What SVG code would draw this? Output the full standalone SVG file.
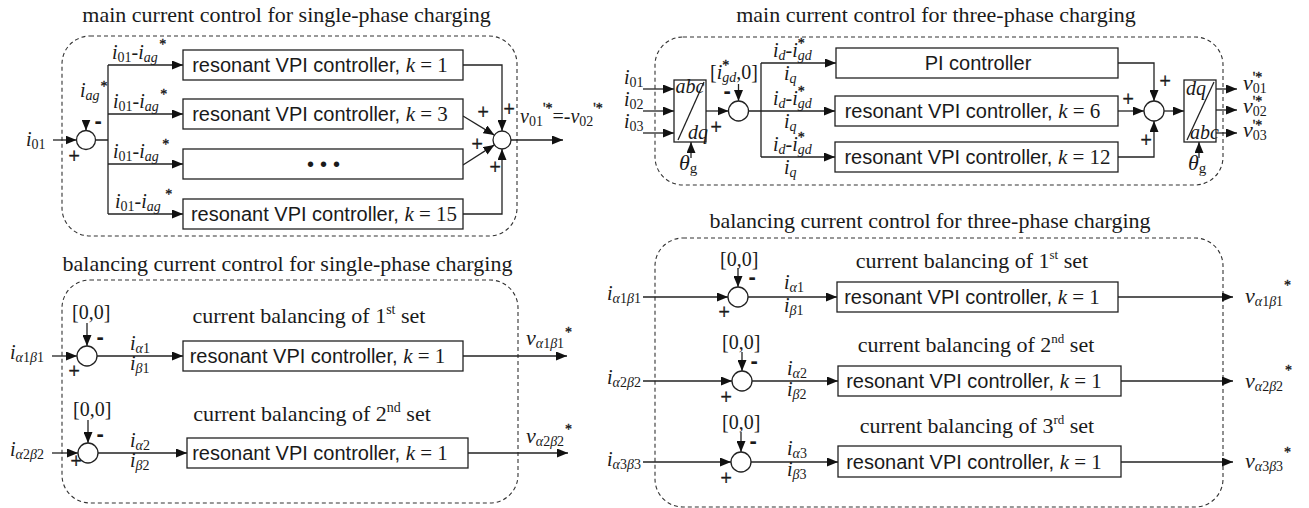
<svg xmlns="http://www.w3.org/2000/svg" width="1309" height="508" viewBox="0 0 1309 508">
<defs>
<style>
.tx{font-family:"Liberation Serif","Times New Roman",serif;fill:#1a1a1a;font-size:20px}
.ti{font-size:22px}
.it{font-style:italic}
.sb{font-size:14px}
.st{font-size:14px;stroke:#1a1a1a;stroke-width:0.35}
.bt{font-family:"Liberation Sans",Arial,sans-serif;font-size:20px;fill:#1a1a1a}
.sr{font-family:"Liberation Serif","Times New Roman",serif;font-size:21px}
.pl{font-family:"Liberation Serif","Times New Roman",serif;font-size:20px;fill:#1a1a1a;stroke:#1a1a1a;stroke-width:0.5}
.pm{font-family:"Liberation Sans",Arial,sans-serif;font-weight:bold;font-size:22px;fill:#1a1a1a}
.ln{fill:none;stroke:#222;stroke-width:1.3}
.ar{marker-end:url(#ah)}
.bx{fill:#fff;stroke:#222;stroke-width:1.3}
.cir{fill:#fff;stroke:#222;stroke-width:1.3}
.dsh{fill:none;stroke:#333;stroke-width:1.1;stroke-dasharray:4 3}
</style>
<marker id="ah" viewBox="0 0 11 9" refX="11" refY="4.5" markerWidth="11" markerHeight="9" markerUnits="userSpaceOnUse" orient="auto"><path d="M0,0 L11,4.5 L0,9 z" fill="#111"/></marker>
</defs>
<rect width="1309" height="508" fill="#fff"/>

<g id="frames">
<rect class="dsh" x="62" y="36" width="455" height="200" rx="28" ry="28"/>
<rect class="dsh" x="655" y="37" width="568" height="148" rx="28" ry="28"/>
<rect class="dsh" x="62" y="280" width="456" height="223" rx="28" ry="28"/>
<rect class="dsh" x="655" y="238" width="568" height="269" rx="28" ry="28"/>
<text class="tx ti" x="286.5" y="22" text-anchor="middle">main current control for single-phase charging</text>
<text class="tx ti" x="936" y="22" text-anchor="middle">main current control for three-phase charging</text>
<text class="tx ti" x="287.5" y="271" text-anchor="middle">balancing current control for single-phase charging</text>
<text class="tx ti" x="930" y="228" text-anchor="middle">balancing current control for three-phase charging</text>
</g>

<g id="connectors">
<path class="ln ar" d="M53,140 H76.5"/>
<path class="ln ar" d="M86,120 V130.5"/>
<path class="ln" d="M95.5,140 H108 M108,65 V214"/>
<path class="ln ar" d="M108,65 H183"/>
<path class="ln ar" d="M108,114 H183"/>
<path class="ln ar" d="M108,164 H183"/>
<path class="ln ar" d="M108,214 H183"/>
<path class="ln ar" d="M463,65 H502 V131"/>
<path class="ln ar" d="M463,116 L494.4,135.1"/>
<path class="ln ar" d="M463,165 L494.4,144.9"/>
<path class="ln ar" d="M463,214 H502 V149"/>
<path class="ln ar" d="M511,140 H563"/>
<path class="ln ar" d="M643,89 H674"/>
<path class="ln ar" d="M643,111 H674"/>
<path class="ln ar" d="M643,133 H674"/>
<path class="ln ar" d="M691,158 V142"/>
<path class="ln ar" d="M706,111 H728.5"/>
<path class="ln ar" d="M738.5,84 V101"/>
<path class="ln" d="M748.5,111 H761 M761,63 V157"/>
<path class="ln ar" d="M761,63 H836"/>
<path class="ln ar" d="M761,111 H835"/>
<path class="ln ar" d="M761,157 H835"/>
<path class="ln ar" d="M1118,63 H1154 V101"/>
<path class="ln ar" d="M1118,111 H1144"/>
<path class="ln ar" d="M1118,157 H1154 V121"/>
<path class="ln ar" d="M1164,111 H1184"/>
<path class="ln ar" d="M1199,158 V142"/>
<path class="ln ar" d="M1216,89 H1237"/>
<path class="ln ar" d="M1216,110 H1237"/>
<path class="ln ar" d="M1216,133 H1237"/>
<path class="ln ar" d="M52,356 H77"/>
<path class="ln ar" d="M87,323 V346"/>
<path class="ln ar" d="M97,356 H183"/>
<path class="ln ar" d="M463,356 H567"/>
<path class="ln ar" d="M52,453 H78"/>
<path class="ln ar" d="M88,420 V443"/>
<path class="ln ar" d="M98,453 H187"/>
<path class="ln ar" d="M468,453 H568"/>
<path class="ln ar" d="M643,297 H728"/>
<path class="ln ar" d="M738,268 V287"/>
<path class="ln ar" d="M748,297 H837"/>
<path class="ln ar" d="M1118,297 H1233"/>
<path class="ln ar" d="M643,381 H732"/>
<path class="ln ar" d="M742,352 V371"/>
<path class="ln ar" d="M752,381 H838"/>
<path class="ln ar" d="M1121,381 H1233"/>
<path class="ln ar" d="M643,462 H731"/>
<path class="ln ar" d="M741,432 V452"/>
<path class="ln ar" d="M751,462 H838"/>
<path class="ln ar" d="M1121,462 H1233"/>
</g>

<g id="tl-input">
<text class="tx" x="26" y="146"><tspan class="it">i</tspan><tspan class="sb" dy="3">01</tspan></text>
<text class="pl" x="68.4" y="162.5">+</text>
</g>
<g id="tl-sum1">
<circle class="cir" cx="86" cy="140" r="9.5"/>
<text class="tx" x="80" y="97"><tspan class="it">i</tspan><tspan class="sb it" dy="3">ag</tspan><tspan class="st" dx="1" dy="-9">*</tspan></text>
<text class="pm" x="94.5" y="128">-</text>
</g>
<g id="tl-labels">
<text class="tx" x="112" y="59"><tspan class="it">i</tspan><tspan class="sb" dy="3">01</tspan><tspan dy="-3">-</tspan><tspan class="it">i</tspan><tspan class="sb it" dy="3">ag</tspan><tspan class="st" dx="1.5" dy="-13.5">*</tspan></text>
<text class="tx" x="113" y="108"><tspan class="it">i</tspan><tspan class="sb" dy="3">01</tspan><tspan dy="-3">-</tspan><tspan class="it">i</tspan><tspan class="sb it" dy="3">ag</tspan><tspan class="st" dx="1.5" dy="-12.5">*</tspan></text>
<text class="tx" x="113" y="158"><tspan class="it">i</tspan><tspan class="sb" dy="3">01</tspan><tspan dy="-3">-</tspan><tspan class="it">i</tspan><tspan class="sb it" dy="3">ag</tspan><tspan class="st" dx="3.5" dy="-12.5">*</tspan></text>
<text class="tx" x="115" y="208"><tspan class="it">i</tspan><tspan class="sb" dy="3">01</tspan><tspan dy="-3">-</tspan><tspan class="it">i</tspan><tspan class="sb it" dy="3">ag</tspan><tspan class="st" dx="4.5" dy="-12.5">*</tspan></text>
</g>
<g id="tl-box1">
<rect class="bx" x="183" y="50" width="280" height="30"/>
<text class="bt" x="320" y="72" text-anchor="middle">resonant VPI controller, <tspan class="sr it">k</tspan><tspan class="sr"> = 1</tspan></text>
</g>
<g id="tl-box2">
<rect class="bx" x="183" y="99" width="280" height="30"/>
<text class="bt" x="320" y="121" text-anchor="middle">resonant VPI controller, <tspan class="sr it">k</tspan><tspan class="sr"> = 3</tspan></text>
</g>
<g id="tl-box3">
<rect class="bx" x="183" y="149" width="280" height="30"/>
<text class="bt" x="307 320 333" y="171" font-size="18">•••</text>
</g>
<g id="tl-box4">
<rect class="bx" x="183" y="199" width="280" height="30"/>
<text class="bt" x="324" y="221" text-anchor="middle">resonant VPI controller, <tspan class="sr it">k</tspan><tspan class="sr"> = 15</tspan></text>
</g>
<g id="tl-sum2">
<circle class="cir" cx="502" cy="140" r="9"/>
<text class="pl" x="477.4" y="118.5">+</text>
<text class="pl" x="503.4" y="115.5">+</text>
<text class="pl" x="471.4" y="150.5">+</text>
<text class="pl" x="489.4" y="173.5">+</text>
</g>
<g id="tl-output">
<text class="tx" x="520" y="123"><tspan class="it">v</tspan><tspan class="sb" dy="3">01</tspan><tspan class="st" dy="-13">'*</tspan><tspan dy="10">=-</tspan><tspan class="it">v</tspan><tspan class="sb" dy="3">02</tspan><tspan class="st" dy="-13">'*</tspan></text>
</g>

<g id="tr-inputs">
<text class="tx" x="624" y="84"><tspan class="it">i</tspan><tspan class="sb" dy="3">01</tspan></text>
<text class="tx" x="624" y="106"><tspan class="it">i</tspan><tspan class="sb" dy="3">02</tspan></text>
<text class="tx" x="624" y="128"><tspan class="it">i</tspan><tspan class="sb" dy="3">03</tspan></text>
</g>
<g id="tr-abc2dq">
<rect class="bx" x="674" y="80" width="32" height="62"/>
<path class="ln" d="M678,140 L704,82"/>
<text class="tx it" x="675.5" y="93" font-size="17">abc</text>
<text class="tx it" x="688" y="139" font-size="17">dq</text>
<text class="tx" x="679" y="170"><tspan class="it" font-size="22">θ</tspan><tspan font-size="15" dy="3">g</tspan></text>
</g>
<g id="tr-sum1">
<circle class="cir" cx="738.5" cy="111" r="10"/>
<text class="tx" x="710" y="79">[<tspan class="it">i</tspan><tspan class="st" dy="-9">*</tspan><tspan class="sb it" dx="-7" dy="12">gd</tspan><tspan dy="-3">,0]</tspan></text>
<text class="pm" x="723.5" y="98">-</text>
<text class="pl" x="710.4" y="133.5">+</text>
</g>
<g id="tr-labels">
<text class="tx" x="773" y="57"><tspan class="it">i</tspan><tspan class="sb it" dy="3">d</tspan><tspan dy="-3">-</tspan><tspan class="it">i</tspan><tspan class="st" dy="-9">*</tspan><tspan class="sb it" dx="-7" dy="12">gd</tspan></text>
<text class="tx" x="784" y="80"><tspan class="it">i</tspan><tspan class="sb it" dy="3">q</tspan></text>
<text class="tx" x="773" y="105"><tspan class="it">i</tspan><tspan class="sb it" dy="3">d</tspan><tspan dy="-3">-</tspan><tspan class="it">i</tspan><tspan class="st" dy="-9">*</tspan><tspan class="sb it" dx="-7" dy="12">gd</tspan></text>
<text class="tx" x="784" y="128"><tspan class="it">i</tspan><tspan class="sb it" dy="3">q</tspan></text>
<text class="tx" x="773" y="151"><tspan class="it">i</tspan><tspan class="sb it" dy="3">d</tspan><tspan dy="-3">-</tspan><tspan class="it">i</tspan><tspan class="st" dy="-9">*</tspan><tspan class="sb it" dx="-7" dy="12">gd</tspan></text>
<text class="tx" x="784" y="174"><tspan class="it">i</tspan><tspan class="sb it" dy="3">q</tspan></text>
</g>
<g id="tr-box1">
<rect class="bx" x="836" y="48" width="282" height="30"/>
<text class="bt" x="978" y="70" text-anchor="middle">PI controller</text>
</g>
<g id="tr-box2">
<rect class="bx" x="835" y="96" width="283" height="30"/>
<text class="bt" x="972.5" y="118" text-anchor="middle">resonant VPI controller, <tspan class="sr it">k</tspan><tspan class="sr"> = 6</tspan></text>
</g>
<g id="tr-box3">
<rect class="bx" x="835" y="142" width="283" height="30"/>
<text class="bt" x="977.5" y="164" text-anchor="middle">resonant VPI controller, <tspan class="sr it">k</tspan><tspan class="sr"> = 12</tspan></text>
</g>
<g id="tr-sum2">
<circle class="cir" cx="1154" cy="111" r="10"/>
<text class="pl" x="1159.4" y="87.5">+</text>
<text class="pl" x="1122.4" y="105.5">+</text>
<text class="pl" x="1140.4" y="146.5">+</text>
</g>
<g id="tr-dq2abc">
<rect class="bx" x="1184" y="80" width="32" height="62"/>
<path class="ln" d="M1187,140 L1214,82"/>
<text class="tx it" x="1186" y="95" font-size="17">dq</text>
<text class="tx it" x="1190" y="139" font-size="17">abc</text>
<text class="tx" x="1188" y="170"><tspan class="it" font-size="22">θ</tspan><tspan font-size="15" dy="3">g</tspan></text>
</g>
<g id="tr-outputs">
<text class="tx" x="1243" y="90"><tspan class="it" font-size="22">v</tspan><tspan class="sb" dy="3">01</tspan><tspan class="st" dx="-14" dy="-11">'*</tspan></text>
<text class="tx" x="1243" y="112.5"><tspan class="it" font-size="22">v</tspan><tspan class="sb" dy="3">02</tspan><tspan class="st" dx="-14" dy="-10">'*</tspan></text>
<text class="tx" x="1243" y="137"><tspan class="it" font-size="22">v</tspan><tspan class="sb" dy="3">03</tspan><tspan class="st" dx="-14" dy="-10">'*</tspan></text>
</g>

<g id="bl-row1">
<text class="tx" x="10" y="359"><tspan class="it">i</tspan><tspan class="sb" dy="3"><tspan class="it">α</tspan>1<tspan class="it">β</tspan>1</tspan></text>
<circle class="cir" cx="87" cy="356" r="10"/>
<text class="tx" x="72" y="319">[0,0]</text>
<text class="pm" x="96.5" y="344">-</text>
<text class="pl" x="68.4" y="377.5">+</text>
<text class="tx" x="130" y="350"><tspan class="it">i</tspan><tspan class="sb" dy="3"><tspan class="it">α</tspan>1</tspan></text>
<text class="tx" x="130" y="370"><tspan class="it">i</tspan><tspan class="sb" dy="3"><tspan class="it">β</tspan>1</tspan></text>
<text class="tx ti" x="309" y="323" text-anchor="middle" font-size="23.5">current balancing of 1<tspan font-size="14" dy="-9">st</tspan><tspan dy="9"> set</tspan></text>
<rect class="bx" x="183" y="341" width="280" height="30"/>
<text class="bt" x="317.5" y="363" text-anchor="middle">resonant VPI controller, <tspan class="sr it">k</tspan><tspan class="sr"> = 1</tspan></text>
<text class="tx" x="526" y="345"><tspan class="it" font-size="22">v</tspan><tspan class="sb" dy="3"><tspan class="it">α</tspan>1<tspan class="it">β</tspan>1</tspan><tspan class="st" dx="1" dy="-11">*</tspan></text>
</g>
<g id="bl-row2">
<text class="tx" x="10" y="456"><tspan class="it">i</tspan><tspan class="sb" dy="3"><tspan class="it">α</tspan>2<tspan class="it">β</tspan>2</tspan></text>
<circle class="cir" cx="88" cy="453" r="10"/>
<text class="tx" x="73" y="416">[0,0]</text>
<text class="pm" x="96.5" y="441">-</text>
<text class="pl" x="70.4" y="467.5">+</text>
<text class="tx" x="130" y="447"><tspan class="it">i</tspan><tspan class="sb" dy="3"><tspan class="it">α</tspan>2</tspan></text>
<text class="tx" x="130" y="467"><tspan class="it">i</tspan><tspan class="sb" dy="3"><tspan class="it">β</tspan>2</tspan></text>
<text class="tx ti" x="312" y="421" text-anchor="middle" font-size="23.5">current balancing of 2<tspan font-size="14" dy="-9">nd</tspan><tspan dy="9"> set</tspan></text>
<rect class="bx" x="187" y="438" width="281" height="30"/>
<text class="bt" x="320" y="460" text-anchor="middle">resonant VPI controller, <tspan class="sr it">k</tspan><tspan class="sr"> = 1</tspan></text>
<text class="tx" x="526" y="443"><tspan class="it" font-size="22">v</tspan><tspan class="sb" dy="3"><tspan class="it">α</tspan>2<tspan class="it">β</tspan>2</tspan><tspan class="st" dx="1" dy="-12">*</tspan></text>
</g>

<g id="br-row1">
<text class="tx" x="607" y="300"><tspan class="it">i</tspan><tspan class="sb" dy="3"><tspan class="it">α</tspan>1<tspan class="it">β</tspan>1</tspan></text>
<circle class="cir" cx="738" cy="297" r="10"/>
<text class="tx" x="720" y="266">[0,0]</text>
<text class="pm" x="748.5" y="284">-</text>
<text class="pl" x="718.4" y="318.5">+</text>
<text class="tx" x="784" y="289"><tspan class="it">i</tspan><tspan class="sb" dy="3"><tspan class="it">α</tspan>1</tspan></text>
<text class="tx" x="784" y="312"><tspan class="it">i</tspan><tspan class="sb" dy="3"><tspan class="it">β</tspan>1</tspan></text>
<text class="tx ti" x="972" y="268" text-anchor="middle">current balancing of 1<tspan font-size="13" dy="-9">st</tspan><tspan dy="9"> set</tspan></text>
<rect class="bx" x="837" y="282" width="281" height="30"/>
<text class="bt" x="972" y="304" text-anchor="middle">resonant VPI controller, <tspan class="sr it">k</tspan><tspan class="sr"> = 1</tspan></text>
<text class="tx" x="1245" y="303"><tspan class="it" font-size="22">v</tspan><tspan class="sb" dy="3"><tspan class="it">α</tspan>1<tspan class="it">β</tspan>1</tspan><tspan class="st" dx="1" dy="-16">*</tspan></text>
</g>
<g id="br-row2">
<text class="tx" x="607" y="384"><tspan class="it">i</tspan><tspan class="sb" dy="3"><tspan class="it">α</tspan>2<tspan class="it">β</tspan>2</tspan></text>
<circle class="cir" cx="742" cy="381" r="10"/>
<text class="tx" x="722" y="349">[0,0]</text>
<text class="pm" x="750.5" y="368">-</text>
<text class="pl" x="720.4" y="403.5">+</text>
<text class="tx" x="787" y="375"><tspan class="it">i</tspan><tspan class="sb" dy="3"><tspan class="it">α</tspan>2</tspan></text>
<text class="tx" x="787" y="396"><tspan class="it">i</tspan><tspan class="sb" dy="3"><tspan class="it">β</tspan>2</tspan></text>
<text class="tx ti" x="976" y="352" text-anchor="middle">current balancing of 2<tspan font-size="13" dy="-9">nd</tspan><tspan dy="9"> set</tspan></text>
<rect class="bx" x="838" y="366" width="283" height="30"/>
<text class="bt" x="974" y="388" text-anchor="middle">resonant VPI controller, <tspan class="sr it">k</tspan><tspan class="sr"> = 1</tspan></text>
<text class="tx" x="1245" y="388"><tspan class="it" font-size="22">v</tspan><tspan class="sb" dy="3"><tspan class="it">α</tspan>2<tspan class="it">β</tspan>2</tspan><tspan class="st" dx="2" dy="-16">*</tspan></text>
</g>
<g id="br-row3">
<text class="tx" x="607" y="466"><tspan class="it">i</tspan><tspan class="sb" dy="3"><tspan class="it">α</tspan>3<tspan class="it">β</tspan>3</tspan></text>
<circle class="cir" cx="741" cy="462" r="10"/>
<text class="tx" x="722" y="429">[0,0]</text>
<text class="pm" x="749.5" y="448">-</text>
<text class="pl" x="720.4" y="484.5">+</text>
<text class="tx" x="787" y="455"><tspan class="it">i</tspan><tspan class="sb" dy="3"><tspan class="it">α</tspan>3</tspan></text>
<text class="tx" x="787" y="476"><tspan class="it">i</tspan><tspan class="sb" dy="3"><tspan class="it">β</tspan>3</tspan></text>
<text class="tx ti" x="977" y="433" text-anchor="middle">current balancing of 3<tspan font-size="13" dy="-9">rd</tspan><tspan dy="9"> set</tspan></text>
<rect class="bx" x="838" y="446" width="283" height="31"/>
<text class="bt" x="974" y="469" text-anchor="middle">resonant VPI controller, <tspan class="sr it">k</tspan><tspan class="sr"> = 1</tspan></text>
<text class="tx" x="1245" y="468"><tspan class="it" font-size="22">v</tspan><tspan class="sb" dy="3"><tspan class="it">α</tspan>3<tspan class="it">β</tspan>3</tspan><tspan class="st" dx="1" dy="-14">*</tspan></text>
</g>
</svg>
